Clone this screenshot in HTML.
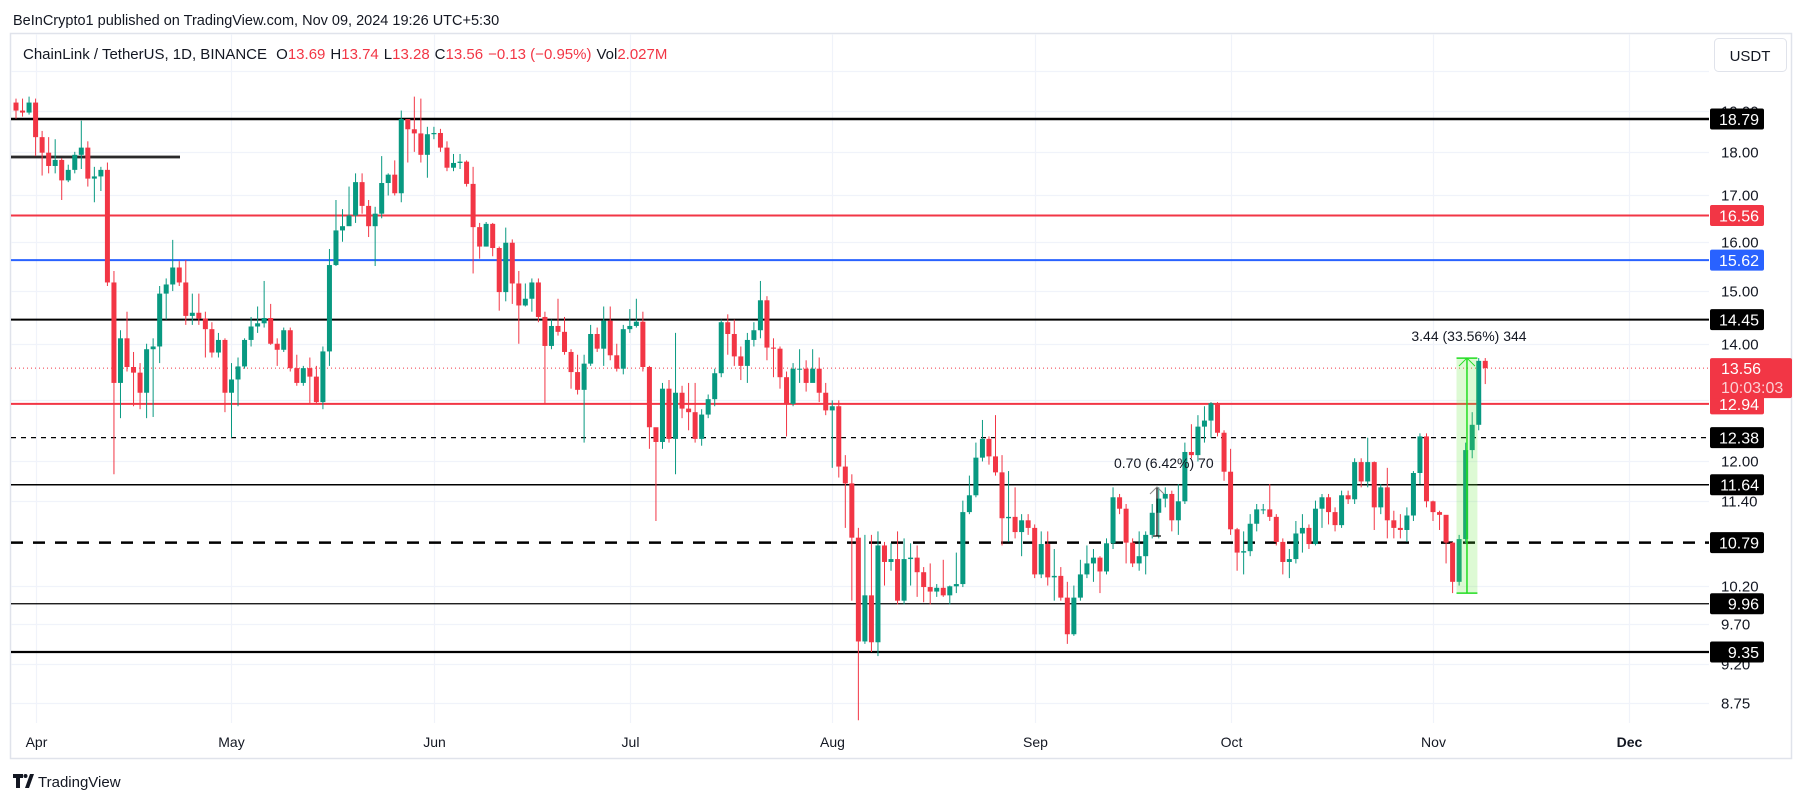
<!DOCTYPE html>
<html><head><meta charset="utf-8">
<style>
html,body{margin:0;padding:0;background:#fff;}
body{width:1804px;height:803px;overflow:hidden;position:relative;font-family:"Liberation Sans",Arial,sans-serif;}
svg{position:absolute;left:0;top:0;}
</style></head>
<body>
<svg id="chart" width="1804" height="803" viewBox="0 0 1804 803" xmlns="http://www.w3.org/2000/svg">
  <text x="13" y="25" font-size="14.5" fill="#131722" font-family="Liberation Sans, sans-serif">BeInCrypto1 published on TradingView.com, Nov 09, 2024 19:26 UTC+5:30</text>
  <rect x="10.5" y="33.5" width="1781" height="725" fill="#fff" stroke="#e0e3eb" stroke-width="1.5"/>
  <g id="grid"></g>
  <g id="levels"></g>
  <g id="candles"></g>
  <g id="annot"></g>
  <g id="axis"></g>
  <g id="taxis"></g>
  <text x="23" y="59" font-size="15" fill="#131722">ChainLink / TetherUS, 1D, BINANCE <tspan dx="5">O</tspan><tspan fill="#f23645">13.69</tspan><tspan dx="5">H</tspan><tspan fill="#f23645">13.74</tspan><tspan dx="5">L</tspan><tspan fill="#f23645">13.28</tspan><tspan dx="5">C</tspan><tspan fill="#f23645">13.56</tspan><tspan dx="5" fill="#f23645">−0.13 (−0.95%)</tspan><tspan dx="5">Vol</tspan><tspan fill="#f23645">2.027M</tspan></text>
  <rect x="1714.5" y="38.5" width="72" height="33" rx="4" fill="#fff" stroke="#e0e3eb"/>
  <text x="1750" y="61" font-size="15" fill="#131722" text-anchor="middle">USDT</text>
  <g>
    <path d="M13 774h10v4h-3v10h-4v-10h-3z M25 788l5-14h4l-5 14z" fill="#131722"/>
    <circle cx="25.5" cy="776" r="2" fill="#131722"/>
  </g>
  <text x="38" y="787" font-size="15" fill="#131722">TradingView</text>
</svg>
<script>
const firstOpen = 19.2;
const closes = [19.0,18.95,19.2,18.35,17.98,17.67,17.81,17.34,17.58,17.93,18.1,17.38,17.43,17.58,15.17,13.3,14.1,13.58,13.48,13.13,
13.9,13.95,14.95,15.13,15.47,15.17,14.52,14.58,14.47,14.27,13.84,14.07,13.13,13.36,13.59,14.07,14.32,14.38,14.48,14.0,
13.89,14.25,13.56,13.3,13.56,13.41,12.97,13.86,15.52,16.24,16.33,16.56,17.3,16.77,16.33,16.6,17.28,17.47,17.05,18.79,
18.54,18.44,17.93,18.42,18.45,18.1,17.63,17.74,17.77,17.26,16.31,15.9,16.38,15.87,14.98,15.98,15.15,14.72,14.85,15.17,
14.5,13.96,14.33,14.22,13.85,13.49,13.18,13.64,14.18,13.91,14.43,13.79,13.55,14.27,14.33,14.41,13.58,12.55,12.31,13.2,
12.36,13.13,12.86,12.8,12.36,12.76,13.02,13.47,14.4,14.18,13.77,13.6,14.07,14.25,14.82,13.93,13.91,13.4,12.94,13.55,
13.55,13.3,13.55,13.13,12.83,12.9,11.92,11.66,10.86,9.48,10.07,9.47,10.75,10.52,10.56,10.0,10.56,10.58,10.38,10.18,
10.12,10.17,10.07,10.19,10.22,11.23,11.48,12.06,12.36,12.08,11.83,11.14,11.16,10.94,11.11,11.0,10.35,10.77,10.31,10.33,
10.04,9.57,10.04,10.35,10.5,10.58,10.39,10.78,11.45,11.28,10.79,10.5,10.6,10.9,11.22,11.43,11.5,11.11,11.39,12.15,
12.1,12.56,12.66,12.95,12.46,11.84,10.98,10.65,10.67,11.06,11.27,11.27,11.16,10.8,10.52,10.56,10.92,11.0,10.77,11.28,
11.45,11.23,11.04,11.48,11.42,11.99,11.69,11.99,11.3,11.6,11.11,11.0,10.97,11.18,11.82,12.4,11.39,11.23,11.19,10.79,
10.25,10.84,12.18,12.59,13.69,13.56];
const highs = [19.3,19.3,19.35,19.3,18.5,18.35,18.3,17.85,17.7,18.0,18.75,18.25,17.65,17.65,17.75,15.4,14.25,14.6,13.85,13.65,
14.0,14.1,15.1,15.25,16.04,15.6,15.62,14.95,14.95,14.6,14.4,14.2,14.1,13.65,13.75,14.1,14.5,14.7,15.2,14.75,
14.1,14.3,14.3,13.8,13.6,13.75,13.6,13.95,15.85,16.9,16.7,17.2,17.5,17.5,16.9,16.75,17.9,17.5,17.8,19.0,
18.75,19.35,19.3,18.6,18.6,18.55,18.25,17.95,17.95,17.8,17.65,16.4,16.42,16.4,15.9,16.3,16.05,15.4,15.15,15.25,
15.25,14.6,14.45,14.85,14.5,13.9,13.8,13.8,14.35,14.3,14.7,14.7,14.0,14.35,14.65,14.85,14.6,13.6,12.5,13.3,
13.35,14.2,13.25,13.3,13.3,12.85,13.1,13.55,14.45,14.55,14.45,13.95,14.2,14.4,15.2,14.9,14.1,13.95,13.5,13.65,
13.9,13.7,13.9,13.75,13.3,13.0,13.0,12.1,11.8,11.0,10.9,10.9,10.95,10.8,10.78,10.95,10.85,10.78,10.75,10.45,
10.5,10.22,10.55,10.2,10.65,11.4,11.78,12.3,12.67,12.4,12.75,12.1,11.85,11.6,11.2,11.2,11.05,10.95,10.95,10.7,
10.45,10.25,10.2,10.55,10.75,10.7,10.6,10.85,11.6,11.5,11.35,10.85,10.95,10.95,11.35,11.6,11.6,11.55,11.65,12.3,
12.6,12.75,12.9,12.97,12.97,12.5,12.2,11.0,10.95,11.2,11.35,11.35,11.65,11.2,10.85,10.7,11.1,11.2,11.05,11.4,
11.5,11.5,11.3,11.55,11.55,12.05,12.05,12.38,12.0,11.65,11.9,11.25,11.2,11.3,11.85,12.45,12.45,11.4,11.25,11.15,
10.8,10.9,12.3,12.8,13.74,13.74];
const lows = [18.8,18.85,18.9,17.9,17.45,17.5,17.5,16.9,17.3,17.5,17.6,17.2,16.85,17.1,15.1,11.8,12.7,13.5,12.9,12.85,
12.7,12.72,13.65,14.45,15.0,15.1,14.35,14.35,14.35,13.75,13.75,13.75,12.8,12.38,12.9,13.55,13.95,14.2,14.3,13.98,
13.6,13.85,13.5,13.25,13.25,12.95,12.95,12.85,13.6,15.5,16.0,16.4,16.4,16.6,16.1,15.5,16.5,17.0,17.0,16.85,
17.75,18.0,17.75,17.4,18.3,18.0,17.55,17.55,17.6,17.2,15.35,15.65,15.9,15.7,14.62,14.8,14.75,14.0,14.7,14.6,
14.4,12.94,13.9,14.15,13.8,13.2,13.1,12.3,13.6,13.85,13.6,13.7,13.5,13.45,14.2,14.3,13.5,12.2,11.1,12.2,
12.3,11.8,12.7,12.5,12.3,12.25,12.7,12.9,13.4,13.8,13.6,13.35,13.3,13.95,14.1,13.7,13.4,13.2,12.4,12.9,
13.3,13.15,13.4,12.97,12.75,11.9,11.75,11.0,10.0,8.55,9.45,9.35,9.3,10.2,10.4,9.95,9.95,10.2,10.05,9.98,
9.95,10.05,10.05,9.95,10.1,10.18,11.2,11.45,12.0,11.95,11.78,10.75,10.8,10.85,10.6,10.9,10.3,10.3,10.2,10.0,
10.0,9.45,9.55,10.0,10.3,10.25,10.1,10.35,10.7,11.2,10.5,10.45,10.4,10.35,10.85,10.85,11.3,10.95,10.9,11.35,
12.05,12.0,12.3,12.38,12.4,11.7,10.9,10.4,10.35,10.6,10.95,11.2,11.1,10.75,10.35,10.3,10.5,10.65,10.7,10.75,
11.0,11.05,10.95,11.0,11.35,11.35,11.6,11.6,10.97,11.2,10.85,10.85,10.85,10.8,11.1,11.65,11.3,11.1,10.97,10.5,
10.1,10.2,10.78,12.05,12.5,13.28];
const priceTicks = [20,19,18,17,16,15,14,13,12,11.4,10.2,9.7,9.2,8.75];
const tickLabels = ["","19.00","18.00","17.00","16.00","15.00","14.00","","12.00","11.40","10.20","9.70","9.20","8.75"];
const monthNames = ["Apr","May","Jun","Jul","Aug","Sep","Oct","Nov","Dec"];
const monthDayIdx = [3,33,64,94,125,156,186,217,247];
const levelValues = [18.79,16.56,15.62,14.45,12.94,12.38,11.64,10.79,9.96,9.35];
const levelLabels = ["18.79","16.56","15.62","14.45","12.94","12.38","11.64","10.79","9.96","9.35"];
const levelColors = ["#000","#f23645","#2962ff","#000","#f23645","#000","#000","#000","#000","#000"];
const levelWidths = [2.5,2,2,2,2,1.2,1.5,2.5,1.2,2.2];
const levelDash = ["","","","","","5,5","","12,10","",""];

const NS="http://www.w3.org/2000/svg";
const PLOT_R=1709;
function xOf(i){return 16+i*6.53;}
function yOf(p){return 652-763.6*Math.log(p/9.35);}
function mk(tag,attrs,parent,txt){const e=document.createElementNS(NS,tag);for(const k in attrs)e.setAttribute(k,attrs[k]);if(txt!==undefined)e.textContent=txt;parent.appendChild(e);return e;}

const grid=document.getElementById('grid');
const axis=document.getElementById('axis');
priceTicks.forEach((p,k)=>{
  const y=Math.round(yOf(p))+0.5;
  const g=mk('line',{x1:11,x2:PLOT_R,y1:y,y2:y,stroke:'#f0f3fa','stroke-width':1.2},grid);
  
  
  if(tickLabels[k]){
    const t=mk('text',{x:1721,y:y+5,'font-size':15,fill:'#131722'},axis,tickLabels[k]);
    
    
  }
});
const taxis=document.getElementById('taxis');
monthNames.forEach((m,k)=>{
  const x=Math.round(xOf(monthDayIdx[k]))+0.5;
  const g=mk('line',{x1:x,x2:x,y1:34,y2:723,stroke:'#f0f3fa','stroke-width':1.2},grid);
  
  
  const t=mk('text',{x:x,y:747,'font-size':14,fill:'#131722','text-anchor':'middle','font-weight':m==='Dec'?'bold':'normal'},taxis,m);
  
  
});

const levels=document.getElementById('levels');
const sl=mk('line',{x1:11,x2:180,y1:157,y2:157,stroke:'#555','stroke-width':3},levels);


mk('line',{x1:11,x2:180,y1:157,y2:157,stroke:'#000','stroke-width':1},levels);
const cp=closes[closes.length-1];
const cy=yOf(cp);
const dl=mk('line',{x1:11,x2:PLOT_R,y1:cy,y2:cy,stroke:'#f23645','stroke-width':1,'stroke-dasharray':'1,3'},levels);


levelValues.forEach((v,k)=>{
  const y=yOf(v);
  const a={x1:11,x2:PLOT_R,y1:y,y2:y,stroke:levelColors[k],'stroke-width':levelWidths[k]};
  if(levelDash[k])a['stroke-dasharray']=levelDash[k];
  const l=mk('line',a,levels);
  
  
  const r=mk('rect',{x:1710,y:y-10.5,width:54,height:21,rx:2,fill:levelColors[k]},axis);
  
  
  const t=mk('text',{x:1759,y:y+6,'font-size':16,fill:'#fff','text-anchor':'end'},axis,levelLabels[k]);
  
  
});
const cr=mk('rect',{x:1710,y:cy-10,width:82,height:40,rx:2,fill:'#f23645'},axis);


const ct=mk('text',{x:1721,y:cy+6,'font-size':16,fill:'#fff'},axis,cp.toFixed(2));


const cd=mk('text',{x:1721,y:cy+25,'font-size':16,fill:'#fbd0d4'},axis,'10:03:03');



const cg=document.getElementById('candles');
closes.forEach((c,i)=>{
  const o=i===0?firstOpen:closes[i-1];
  const up=c>=o;
  const col=up?'#089981':'#f23645';
  const x=xOf(i);
  const w=mk('line',{x1:x,x2:x,y1:yOf(highs[i]),y2:yOf(lows[i]),stroke:col,'stroke-width':1},cg);
  
  
  const yt=yOf(Math.max(o,c)),yb=yOf(Math.min(o,c));
  const b=mk('rect',{x:x-2.5,y:yt,width:5,height:Math.max(1,yb-yt),fill:col},cg);
  
  
});

const an=document.getElementById('annot');
const mLow=lows[220], mHigh=highs[224];
const mx1=xOf(220.6), mx2=xOf(223.8), mxc=(mx1+mx2)/2;
const mbox=mk('rect',{x:mx1,y:yOf(mHigh),width:mx2-mx1,height:yOf(mLow)-yOf(mHigh),fill:'rgba(100,230,60,0.22)'},an);


mk('line',{x1:mx1,x2:mx2,y1:yOf(mHigh),y2:yOf(mHigh),stroke:'#22dd22','stroke-width':1.5},an);
mk('line',{x1:mx1,x2:mx2,y1:yOf(mLow),y2:yOf(mLow),stroke:'#22dd22','stroke-width':1.5},an);
mk('line',{x1:mxc,x2:mxc,y1:yOf(mHigh),y2:yOf(mLow),stroke:'#22dd22','stroke-width':1.5},an);
mk('path',{d:`M${mxc-8} ${yOf(mHigh)+8}L${mxc} ${yOf(mHigh)}L${mxc+8} ${yOf(mHigh)+8}`,stroke:'#22dd22',fill:'none','stroke-width':1},an);
const mt=mk('text',{x:mxc+2,y:341,'font-size':14,fill:'#131722','text-anchor':'middle'},an,'3.44 (33.56%) 344');


const sx=1157;
mk('line',{x1:sx,x2:sx,y1:487,y2:536,stroke:'#000','stroke-width':1.2},an);
mk('line',{x1:sx-4,x2:sx+4,y1:536,y2:536,stroke:'#000','stroke-width':1.2},an);
mk('path',{d:`M${sx-7} ${494}L${sx} ${487}L${sx+7} ${494}`,stroke:'#888',fill:'none','stroke-width':1},an);
const st=mk('text',{x:1114,y:468,'font-size':14,fill:'#131722'},an,'0.70 (6.42%) 70');


</script>
</body></html>
